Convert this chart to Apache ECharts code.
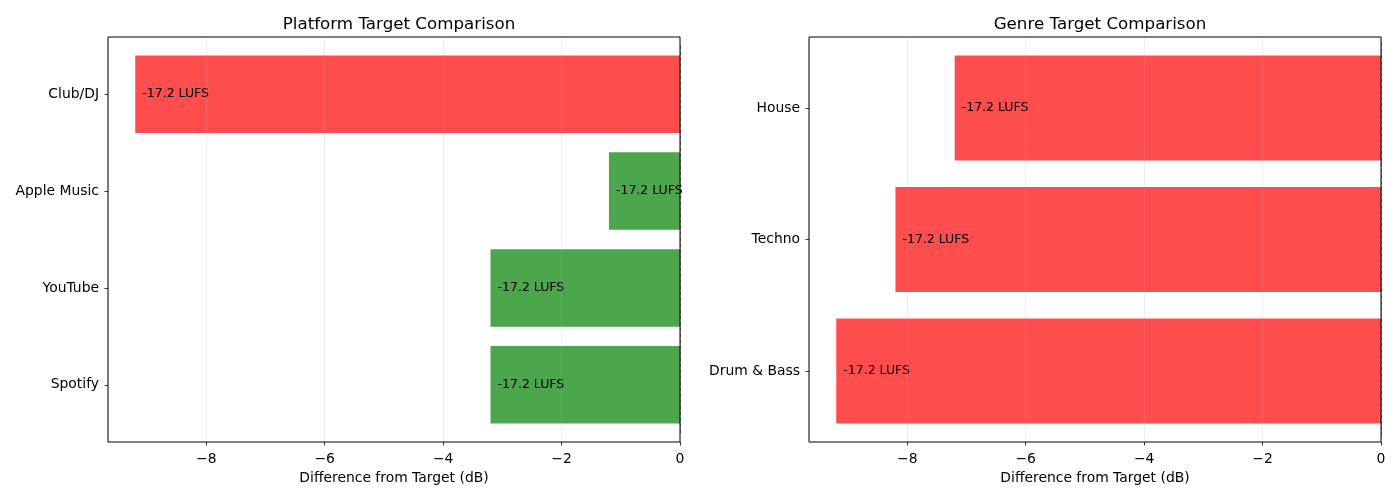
<!DOCTYPE html>
<html>
<head>
<meta charset="utf-8">
<script src="https://cdn.jsdelivr.net/npm/echarts@6/dist/echarts.min.js"></script>
<style>
html,body{margin:0;padding:0;background:#fff;}
#chart{width:1400px;height:500px;}
</style>
</head>
<body>
<div id="chart"></div>
<script>
// ---- data (bottom to top) ----
const platformCategories = ['Spotify', 'YouTube', 'Apple Music', 'Club/DJ'];
const platformDiff = [-3.2, -3.2, -1.2, -9.2];
const platformLufs = [-17.2, -17.2, -17.2, -17.2];

const genreCategories = ['Drum & Bass', 'Techno', 'House'];
const genreDiff = [-9.2, -8.2, -7.2];
const genreLufs = [-17.2, -17.2, -17.2];

const xTicks = [-8, -6, -4, -2, 0];
const xMin = -9.66, xMax = 0;

const titles = ['Platform Target Comparison', 'Genre Target Comparison'];
const xName = 'Difference from Target (dB)';

// ---- styling ----
const FONT = 'DejaVu Sans';
const RED = 'rgba(255,0,0,0.7)';
const GREEN = 'rgba(0,128,0,0.7)';
const colorFor = v => (v >= -4 ? GREEN : RED);
const fmtTick = v => String(v).replace('-', '\u2212');

function panel(idx, frame, dataBox, cats, diffs, lufs, title) {
  const g0 = idx * 2, g1 = idx * 2 + 1;
  const grids = [
    { left: frame.left, width: frame.width, top: frame.top, height: frame.height,
      show: true, borderColor: '#000', borderWidth: 1, backgroundColor: 'transparent', z: 10 },
    { left: frame.left, width: frame.width, top: dataBox.top, height: dataBox.height,
      show: false }
  ];
  const xAxes = [
    { gridIndex: g0, type: 'value', min: xMin, max: xMax, splitNumber: 5, z: 5,
      axisLine: { show: false, onZero: false }, axisTick: { show: false }, axisLabel: { show: false },
      splitLine: { show: true, lineStyle: { color: 'rgba(176,176,176,0.3)', width: 0.8 } } },
    { gridIndex: g1, type: 'value', min: xMin, max: xMax, position: 'bottom',
      offset: (frame.top + frame.height) - (dataBox.top + dataBox.height),
      axisLine: { show: false, onZero: false },
      axisTick: { show: true, length: 3.5, customValues: xTicks, lineStyle: { color: '#000', width: 0.8 } },
      axisLabel: { show: true, customValues: xTicks, formatter: fmtTick, color: '#000',
        fontFamily: FONT, fontSize: 13.9, margin: 10 },
      splitLine: { show: false },
      name: xName, nameLocation: 'middle', nameGap: 29,
      nameTextStyle: { color: '#000', fontFamily: FONT, fontSize: 13.9 } }
  ];
  const yAxes = [
    { gridIndex: g0, type: 'value', min: 0, max: 1, show: false },
    { gridIndex: g1, type: 'category', data: cats, boundaryGap: true, position: 'left',
      axisLine: { show: false, onZero: false },
      axisTick: { show: true, length: 3.5, alignWithLabel: true, lineStyle: { color: '#000', width: 0.8 } },
      axisLabel: { color: '#000', fontFamily: FONT, fontSize: 13.9, margin: 9 },
      splitLine: { show: false } }
  ];
  const series = [{
    type: 'bar', xAxisIndex: g1, yAxisIndex: g1, barCategoryGap: '20%', z: 2,
    data: diffs.map((v, i) => ({ value: v, itemStyle: { color: colorFor(v) },
      label: { formatter: lufs[i] + ' LUFS' } })),
    label: { show: true, position: 'insideLeft', distance: 7, color: '#000',
      fontFamily: FONT, fontSize: 12.5 },
    emphasis: { disabled: true },
    markLine: { silent: true, symbol: 'none', label: { show: false },
      lineStyle: { color: 'rgba(0,0,0,0.5)', type: 'dashed', width: 1 },
      data: [{ xAxis: 0 }] }
  }];
  const t = { text: title, left: frame.left + frame.width / 2, top: 11, textAlign: 'center',
    textStyle: { color: '#000', fontFamily: FONT, fontSize: 16.7, fontWeight: 'normal' } };
  return { grids, xAxes, yAxes, series, t };
}

const pL = panel(0, { left: 108, width: 572, top: 37, height: 405 },
  { top: 45.7, height: 387.6 }, platformCategories, platformDiff, platformLufs, titles[0]);
const pR = panel(1, { left: 809, width: 572, top: 37, height: 405 },
  { top: 42.3, height: 394.4 }, genreCategories, genreDiff, genreLufs, titles[1]);

const chart = echarts.init(document.getElementById('chart'), null, { renderer: 'canvas' });
chart.setOption({
  animation: false,
  backgroundColor: '#fff',
  textStyle: { fontFamily: FONT },
  title: [pL.t, pR.t],
  grid: [...pL.grids, ...pR.grids],
  xAxis: [...pL.xAxes, ...pR.xAxes],
  yAxis: [...pL.yAxes, ...pR.yAxes],
  series: [...pL.series, ...pR.series]
});
</script>
</body>
</html>
